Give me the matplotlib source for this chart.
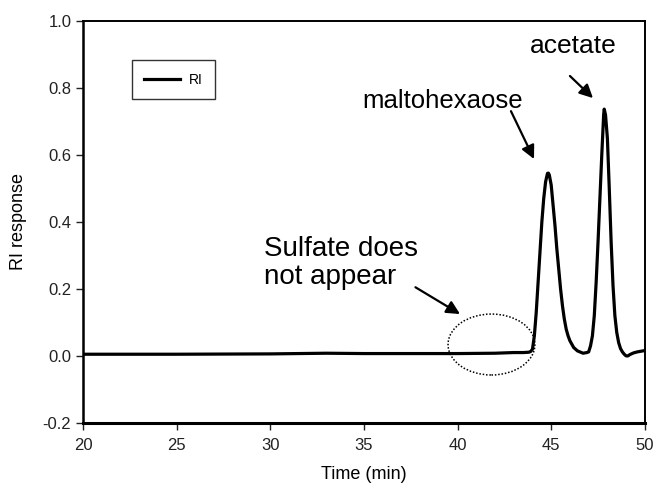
import matplotlib
matplotlib.use("Agg")
import matplotlib.pyplot as plt
from matplotlib.patches import Ellipse

plt.rcParams['font.family'] = ['Liberation Sans', 'DejaVu Sans']

# RI chromatogram, read point by point (time in min, response)
time_min = [20.0, 25.0, 30.0, 33.0, 35.0, 38.0, 40.0, 42.0, 43.0, 43.5, 43.8, 43.9,
            44.0, 44.1, 44.2, 44.3, 44.4, 44.5, 44.6, 44.7, 44.8, 44.85, 44.9,
            45.0, 45.1, 45.2, 45.3, 45.4, 45.5, 45.6, 45.7, 45.8, 45.9,
            46.0, 46.2, 46.4, 46.7, 46.9,
            47.0, 47.1, 47.2, 47.3, 47.4, 47.5, 47.6, 47.7, 47.8, 47.83, 47.9,
            48.0, 48.1, 48.2, 48.3, 48.4, 48.5, 48.6, 48.7, 48.8, 48.9,
            49.0, 49.1, 49.2, 49.4, 49.6, 49.8, 50.0]
ri_response = [0.005, 0.005, 0.006, 0.008, 0.007, 0.007, 0.007, 0.008, 0.010, 0.010, 0.011, 0.013,
               0.020, 0.060, 0.130, 0.220, 0.310, 0.400, 0.470, 0.520, 0.545, 0.546, 0.540,
               0.510, 0.450, 0.390, 0.320, 0.260, 0.200, 0.150, 0.110, 0.080, 0.060,
               0.045, 0.025, 0.015, 0.008, 0.010,
               0.012, 0.030, 0.060, 0.120, 0.220, 0.340, 0.470, 0.600, 0.720, 0.737, 0.720,
               0.650, 0.500, 0.340, 0.210, 0.120, 0.070, 0.040, 0.022, 0.012, 0.005,
               0.000, 0.000, 0.004, 0.009, 0.012, 0.014, 0.016]

x_ticks = [20, 25, 30, 35, 40, 45, 50]
y_ticks = [-0.2, 0.0, 0.2, 0.4, 0.6, 0.8, 1.0]

fig = plt.figure(figsize=(6.54, 4.90), dpi=100)
ax = fig.add_axes([0.127, 0.137, 0.859, 0.820])

ax.plot(time_min, ri_response, color='black', linewidth=2.3, label='RI',
        solid_joinstyle='round')

ax.set_xlim(20, 50)
ax.set_ylim(-0.2, 1.0)
ax.set_xticks(x_ticks)
ax.set_yticks(y_ticks)
ax.set_yticklabels([f"{v:.1f}" for v in y_ticks])
ax.tick_params(direction='out', length=5, width=1, labelsize=12, colors='#222222')
ax.tick_params(axis='x', pad=6)
for side in ax.spines:
    ax.spines[side].set_linewidth(1.4)
ax.spines['bottom'].set_linewidth(2.2)
ax.spines['left'].set_linewidth(1.8)

ax.set_xlabel("Time (min)", fontsize=13, labelpad=9)
ax.set_ylabel("RI response", fontsize=13, labelpad=11)

leg = ax.legend(loc='upper left', bbox_to_anchor=(0.074, 0.92), fontsize=10,
                frameon=True, fancybox=False, handlelength=2.6, borderpad=0.9,
                handletextpad=0.6)
leg.get_frame().set_edgecolor('black')
leg.get_frame().set_linewidth(1.0)

arrow = dict(arrowstyle='-|>', color='black', lw=1.6, mutation_scale=20,
             shrinkA=0, shrinkB=0)
ax.text(39.2, 0.76, "maltohexaose", fontsize=18.5, ha='center', va='center')
ax.annotate("", xy=(44.08, 0.588), xytext=(42.85, 0.731), arrowprops=arrow)
ax.text(46.16, 0.925, "acetate", fontsize=19, ha='center', va='center')
ax.annotate("", xy=(47.23, 0.77), xytext=(46.0, 0.836), arrowprops=arrow)
ax.text(29.66, 0.278, "Sulfate does\nnot appear", fontsize=20, ha='left',
        va='center', linespacing=1.1)
ax.annotate("", xy=(40.13, 0.125), xytext=(37.75, 0.205), arrowprops=arrow)

ax.add_patch(Ellipse((41.81, 0.034), 4.64, 0.182, fill=False, edgecolor='black',
                     linestyle=(0, (1, 1.2)), linewidth=1.1))

fig.savefig("out.png", dpi=100)
